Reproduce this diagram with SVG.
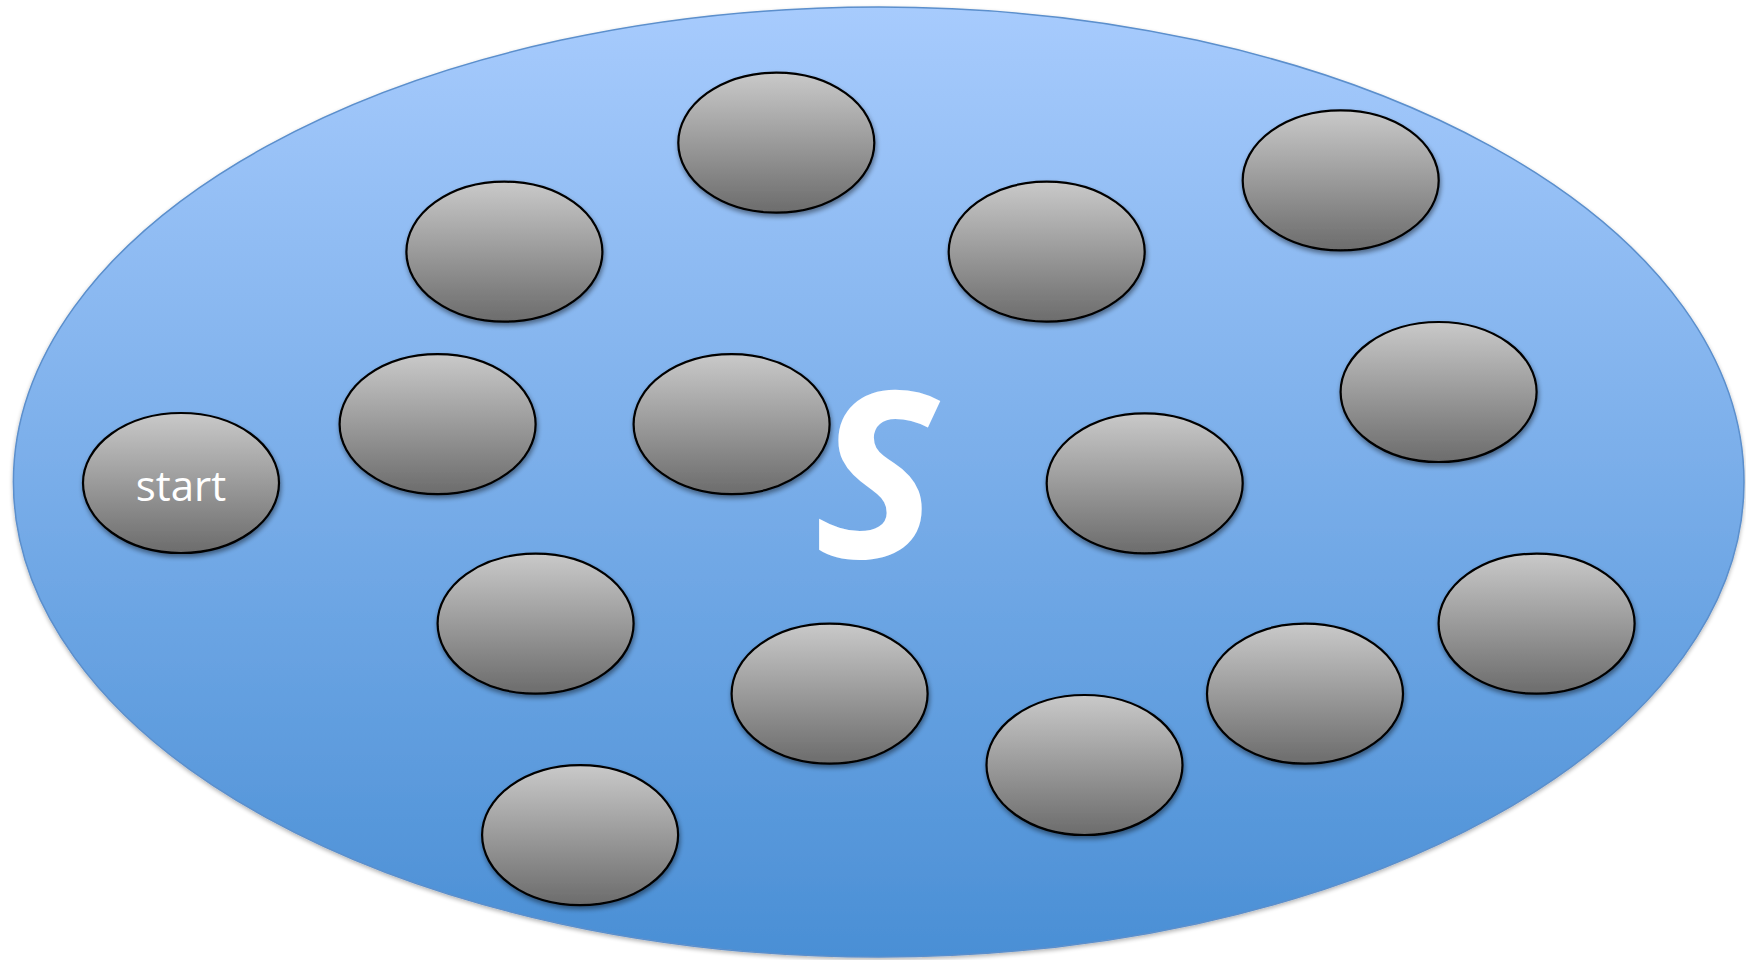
<svg xmlns="http://www.w3.org/2000/svg" width="1746" height="960" viewBox="0 0 1746 960">
<defs>
<linearGradient id="bigGrad" x1="0" y1="0" x2="0" y2="1">
<stop offset="0" stop-color="#a7cbfd"/>
<stop offset="1" stop-color="#4a8fd5"/>
</linearGradient>
<linearGradient id="nodeGrad" x1="0" y1="0" x2="0" y2="1">
<stop offset="0" stop-color="#c9c9c9"/>
<stop offset="1" stop-color="#6c6c6c"/>
</linearGradient>
<filter id="shadow" x="-20%" y="-20%" width="140%" height="150%">
<feGaussianBlur in="SourceAlpha" stdDeviation="2.5"/>
<feOffset dx="1" dy="3" result="b"/>
<feComponentTransfer><feFuncA type="linear" slope="0.45"/></feComponentTransfer>
<feMerge><feMergeNode/><feMergeNode in="SourceGraphic"/></feMerge>
</filter>
<filter id="bigShadow" x="-5%" y="-5%" width="110%" height="110%">
<feGaussianBlur in="SourceAlpha" stdDeviation="2"/>
<feOffset dx="0" dy="2" result="b"/>
<feComponentTransfer><feFuncA type="linear" slope="0.3"/></feComponentTransfer>
<feMerge><feMergeNode/><feMergeNode in="SourceGraphic"/></feMerge>
</filter>
</defs>
<style>
.node{fill:url(#nodeGrad);stroke:#000;stroke-width:2.2;filter:url(#shadow);}
.lbl{font-family:"Open Sans","Liberation Sans",sans-serif;font-size:42px;fill:#fff;text-anchor:middle;}
.big{font-family:"Open Sans","Liberation Sans",sans-serif;font-size:232px;font-weight:bold;font-style:italic;fill:#fff;text-anchor:middle;}
</style>
<g id="set-S">
<ellipse cx="878.7" cy="482" rx="865.3" ry="475" fill="url(#bigGrad)" stroke="#5b8fcc" stroke-width="1.5" filter="url(#bigShadow)"/>
<text class="big" x="876" y="558">S</text>
</g>
<g id="connectors"></g>
<g id="n-start"><ellipse class="node" cx="181" cy="483" rx="98" ry="70"/><text class="lbl" x="181" y="501">start</text></g>
<g id="n2"><ellipse class="node" cx="776.3" cy="142.7" rx="98" ry="70"/></g>
<g id="n3"><ellipse class="node" cx="504.4" cy="251.7" rx="98" ry="70"/></g>
<g id="n4"><ellipse class="node" cx="1046.7" cy="251.7" rx="98" ry="70"/></g>
<g id="n5"><ellipse class="node" cx="1340.7" cy="180.4" rx="98" ry="70"/></g>
<g id="n6"><ellipse class="node" cx="437.6" cy="424.2" rx="98" ry="70"/></g>
<g id="n7"><ellipse class="node" cx="731.6" cy="424.2" rx="98" ry="70"/></g>
<g id="n8"><ellipse class="node" cx="1438.6" cy="392" rx="98" ry="70"/></g>
<g id="n9"><ellipse class="node" cx="1144.7" cy="483.3" rx="98" ry="70"/></g>
<g id="n10"><ellipse class="node" cx="535.6" cy="623.6" rx="98" ry="70"/></g>
<g id="n11"><ellipse class="node" cx="829.6" cy="693.7" rx="98" ry="70"/></g>
<g id="n12"><ellipse class="node" cx="1084.5" cy="765" rx="98" ry="70"/></g>
<g id="n13"><ellipse class="node" cx="1305" cy="693.7" rx="98" ry="70"/></g>
<g id="n14"><ellipse class="node" cx="1536.6" cy="623.6" rx="98" ry="70"/></g>
<g id="n15"><ellipse class="node" cx="580.1" cy="835.1" rx="98" ry="70"/></g>
</svg>
